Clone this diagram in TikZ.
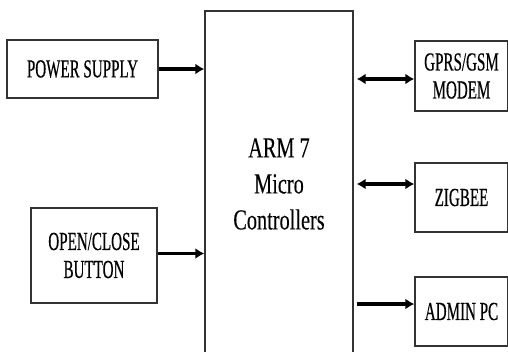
\documentclass[tikz,border=0pt]{standalone}
\usepackage{fontspec}
\setmainfont{Liberation Serif}
\newfontfamily\blockfont[FakeStretch=0.58,FakeBold=0.4]{Liberation Serif}
\newfontfamily\mcufont[FakeStretch=0.7,FakeBold=0.2]{Liberation Serif}
\usetikzlibrary{arrows.meta}

\tikzset{
 block/.style={draw=black!80,line width=1.3pt,inner sep=0pt,align=center,
  font=\blockfont\fontsize{26}{28}\selectfont},
 link/.style={line width=3.2pt,shorten <=3pt},
}

\begin{document}
\begin{tikzpicture}[x=1pt,y=-1pt,>={Latex[length=9pt,width=11pt]}]
 \useasboundingbox (0,0) rectangle (508,351);
 \clip (0,0) rectangle (508,351);
 % left side
 \node[block,minimum width=151pt,minimum height=58pt] (psu) at (82.5,69) {POWER SUPPLY};
 \node[block,minimum width=126pt,minimum height=95pt] (btn) at (94,255.5) {OPEN/CLOSE\\BUTTON};
 % controller
 \node[block,minimum width=148pt,minimum height=346pt,
  font=\mcufont\fontsize{29}{36}\selectfont] (mcu) at (279,184) {ARM 7\\Micro\\Controllers};
 % right side
 \node[block,minimum width=93pt,minimum height=70pt] (gsm) at (461.5,76) {GPRS/GSM\\MODEM};
 \node[block,minimum width=93pt,minimum height=69pt] (zig) at (461.5,197.5) {ZIGBEE};
 \node[block,minimum width=93pt,minimum height=69pt] (pc) at (461.5,311.5) {ADMIN PC};
 % links
 \draw[->,line width=3.2pt] (psu.east) -- (psu.east -| mcu.west);
 \draw[->,line width=3.2pt] ([yshift=2pt]btn.east) -- ([yshift=2pt]btn.east -| mcu.west);
 \draw[<->,link] ([yshift=-3pt]gsm.west -| mcu.east) -- ([yshift=-3pt]gsm.west);
 \draw[<->,link] ([yshift=13.5pt]zig.west -| mcu.east) -- ([yshift=13.5pt]zig.west);
 \draw[->,link] ([yshift=7.5pt]pc.west -| mcu.east) -- ([yshift=7.5pt]pc.west);
\end{tikzpicture}
\end{document}
